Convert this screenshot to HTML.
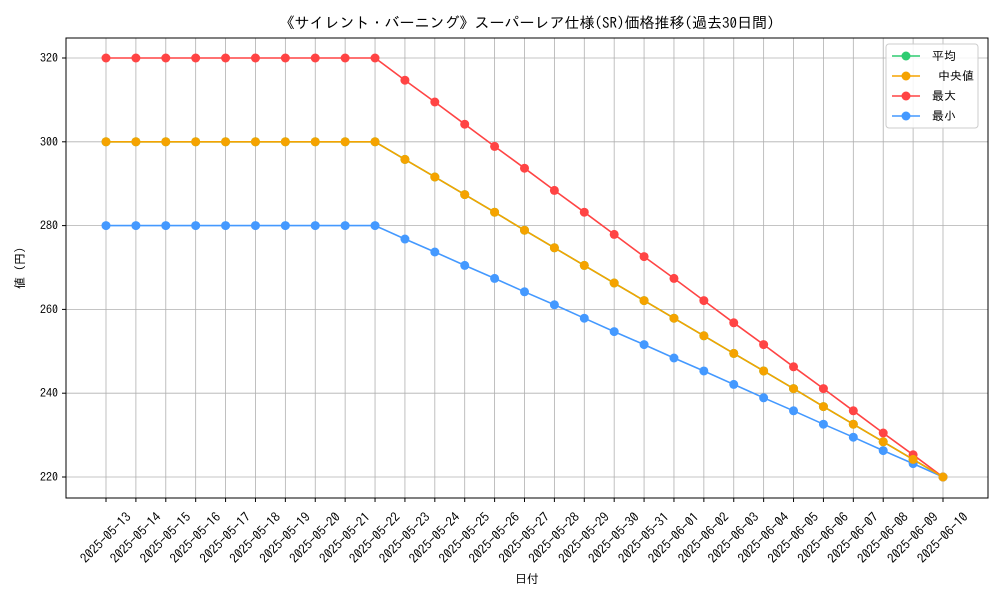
<!DOCTYPE html>
<html><head><meta charset="utf-8"><style>
body{margin:0;background:#fff}
svg{font-family:"IPAGothic","Noto Sans CJK JP",sans-serif}
</style></head><body>
<svg id="c" width="1000" height="600"></svg>
<script>
const dates=["2025-05-13","2025-05-14","2025-05-15","2025-05-16","2025-05-17","2025-05-18","2025-05-19","2025-05-20","2025-05-21","2025-05-22","2025-05-23","2025-05-24","2025-05-25","2025-05-26","2025-05-27","2025-05-28","2025-05-29","2025-05-30","2025-05-31","2025-06-01","2025-06-02","2025-06-03","2025-06-04","2025-06-05","2025-06-06","2025-06-07","2025-06-08","2025-06-09","2025-06-10"];
const maxVals=[320,320,320,320,320,320,320,320,320,320,314.7,309.5,304.2,298.9,293.7,288.4,283.2,277.9,272.6,267.4,262.1,256.8,251.6,246.3,241.1,235.8,230.5,225.3,220];
const medVals=[300,300,300,300,300,300,300,300,300,300,295.8,291.6,287.4,283.2,278.9,274.7,270.5,266.3,262.1,257.9,253.7,249.5,245.3,241.1,236.8,232.6,228.4,224.2,220];
const avgVals=[300,300,300,300,300,300,300,300,300,300,295.8,291.6,287.4,283.2,278.9,274.7,270.5,266.3,262.1,257.9,253.7,249.5,245.3,241.1,236.8,232.6,228.4,224.2,220];
const minVals=[280,280,280,280,280,280,280,280,280,280,276.8,273.7,270.5,267.4,264.2,261.1,257.9,254.7,251.6,248.4,245.3,242.1,238.9,235.8,232.6,229.5,226.3,223.2,220];
const yTicks=[220,240,260,280,300,320];
const NS="http://www.w3.org/2000/svg";
const svg=document.getElementById('c');
const L=66,R=988,T=38,B=498;
const xs=i=>106+i*(943-106)/(dates.length-1);
const ys=v=>477-(v-220)*(477-58)/100;
function el(t,a,p){const e=document.createElementNS(NS,t);for(const k in a)e.setAttribute(k,a[k]);(p||svg).appendChild(e);return e;}
dates.forEach((d,i)=>{const g=el('line',{x1:xs(i),x2:xs(i),y1:T,y2:B,stroke:'#b0b0b0','stroke-width':0.8});


el('line',{x1:xs(i),x2:xs(i),y1:B,y2:B+4,stroke:'#000'});
const cx=xs(i), cy=538;
const t=el('text',{x:cx,y:cy+4,'font-size':13,'text-anchor':'middle',transform:`rotate(-45 ${cx} ${cy})`});t.textContent=d;

});
yTicks.forEach(v=>{const g=el('line',{x1:L,x2:R,y1:ys(v),y2:ys(v),stroke:'#b0b0b0','stroke-width':0.8});


el('line',{x1:L-4,x2:L,y1:ys(v),y2:ys(v),stroke:'#000'});
const t=el('text',{x:L-8,y:ys(v)+4,'font-size':12,'text-anchor':'end'});t.textContent=v;

});
const fr=el('rect',{x:L,y:T,width:R-L,height:B-T,fill:'none',stroke:'#000','stroke-width':1});


const series=[["avg",avgVals,"#2ecc71"],["max",maxVals,"#ff4444"],["min",minVals,"#4499ff"],["median",medVals,"#f5a300"]];
series.forEach(([n,vals,c])=>{const p=el('polyline',{points:vals.map((v,i)=>xs(i)+','+ys(v)).join(' '),fill:'none',stroke:c,'stroke-width':1.6});


vals.forEach((v,i)=>{const m=el('circle',{cx:xs(i),cy:ys(v),r:4.5,fill:c});

});});
const title=el('text',{x:527,y:28,'font-size':15,'text-anchor':'middle'});title.textContent='《サイレント・バーニング》スーパーレア仕様(SR)価格推移(過去30日間)';


const xt=el('text',{x:527,y:583,'font-size':12,'text-anchor':'middle'});xt.textContent='日付';


const yt=el('text',{x:24,y:268,'font-size':12,'text-anchor':'middle',transform:'rotate(-90 24 268)'});yt.textContent='値 (円)';


const lg=el('g',{});


el('rect',{x:886,y:44,width:92,height:84,rx:3,fill:'#fff','fill-opacity':0.85,stroke:'#ccc'},lg);
[["平均","#2ecc71"],[" 中央値","#f5a300"],["最大","#ff4444"],["最小","#4499ff"]].forEach(([n,c],i)=>{const y=56+i*20;
const g=el('g',{},lg);


el('line',{x1:892,x2:920,y1:y,y2:y,stroke:c,'stroke-width':1.6},g);
el('circle',{cx:906,cy:y,r:4.5,fill:c},g);
const t=el('text',{x:932,y:y+4,'font-size':12,style:'white-space:pre'},g);t.textContent=n;});
</script>
</body></html>
